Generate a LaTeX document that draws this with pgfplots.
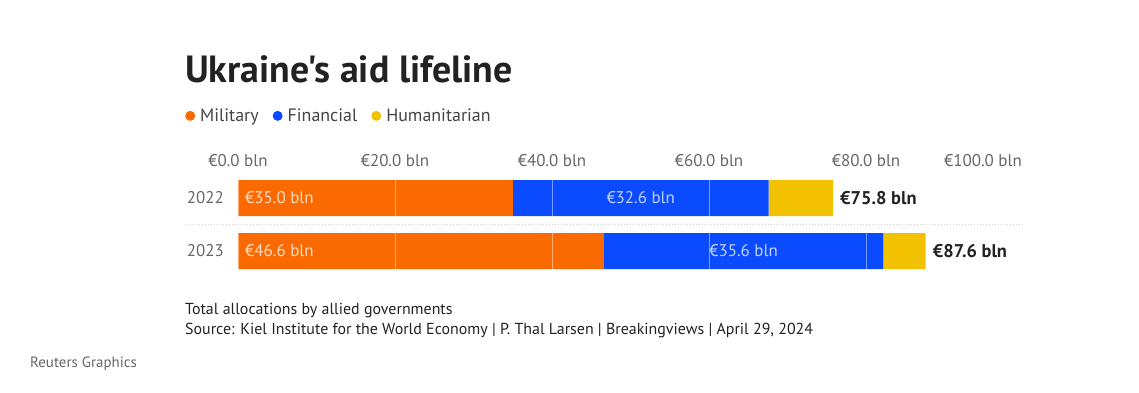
\documentclass[border=0pt]{standalone}
\usepackage{pgfplots}
\pgfplotsset{compat=1.18}
\usepackage{fontspec}
\setmainfont{PT Sans}
\newfontfamily\titlefont{PT Sans}
\definecolor{mil}{HTML}{FA6A00}
\definecolor{fin}{HTML}{0A4BFF}
\definecolor{hum}{HTML}{F2C200}
\definecolor{txt}{HTML}{222222}
\definecolor{tick}{HTML}{666666}
\tikzset{barlab/.style={inner sep=0pt, font=\fontsize{17}{20}\selectfont},
  totlab/.style={inner sep=0pt, anchor=west, xshift=7bp, font=\fontsize{18.5}{20}\bfseries\selectfont, text=txt}}
\begin{document}
\begin{tikzpicture}[x=1bp,y=1bp]
\path[use as bounding box] (0,0) rectangle (1139,392);
\begin{axis}[
  at={(238bp,114.5bp)}, anchor=south west,
  scale only axis, width=785bp, height=106bp,
  xbar stacked, bar width=36bp,
  xmin=0, xmax=100, ymin=-0.5, ymax=1.5,
  axis line style={draw=none},
  major tick length=0pt,
  ytick={0,1}, yticklabels={2023,2022},
  xtick={0,20,40,60,80},
  xticklabels={€0.0 bln,€20.0 bln,€40.0 bln,€60.0 bln,€80.0 bln},
  extra x ticks={100}, extra x tick labels={€100.0 bln},
  extra x tick style={xmajorgrids=false, xticklabel style={anchor=base east, xshift=-1bp}},
  xticklabel pos=upper,
  xticklabel style={anchor=base, yshift=5.5bp, inner sep=0pt},
  yticklabel style={anchor=east, inner sep=0pt, xshift=-14bp},
  every tick label/.append style={font=\fontsize{17}{20}\selectfont, text=tick},
  xmajorgrids, grid style={white, opacity=0.45, line width=1bp},
  axis on top, clip=false,
  legend columns=3,
  legend style={at={(-0.0675,1.525)}, anchor=west, draw=none, fill=none,
    inner sep=0pt, font=\fontsize{18}{20}\selectfont, text=txt!85,
    /tikz/every odd column/.append style={column sep=3bp},
    /tikz/every even column/.append style={column sep=12bp}},
  legend image code/.code={\fill[#1,draw=none] (5bp,0bp) circle (5bp);},
]
\addplot[fill=mil, draw=none] coordinates {(35.0,1) (46.6,0)};
\addplot[fill=fin, draw=none] coordinates {(32.6,1) (35.6,0)};
\addplot[fill=hum, draw=none] coordinates {(8.2,1) (5.4,0)};
\legend{Military,Financial,Humanitarian}
\coordinate (m22) at (axis cs:0,1);
\coordinate (m23) at (axis cs:0,0);
\coordinate (f22) at (axis cs:51.3,1);
\coordinate (f23) at (axis cs:64.4,0);
\coordinate (t22) at (axis cs:75.8,1);
\coordinate (t23) at (axis cs:87.6,0);
\end{axis}
\node[barlab, text=white!78!mil, anchor=west, xshift=7bp] at (m22) {€35.0 bln};
\node[barlab, text=white!78!mil, anchor=west, xshift=7bp] at (m23) {€46.6 bln};
\node[barlab, text=white!75!fin] at (f22) {€32.6 bln};
\node[barlab, text=white!75!fin] at (f23) {€35.6 bln};
\node[totlab] at (t22) {€75.8 bln};
\node[totlab] at (t23) {€87.6 bln};
\draw[gray!35, line width=1bp, dotted] (187,168) -- (1023,168);
\node[anchor=base west, inner sep=0pt, font=\titlefont\fontsize{38}{40}\bfseries\selectfont, text=txt] at (185,310) {Ukraine's aid lifeline};
\node[anchor=base west, inner sep=0pt, font=\fontsize{16}{18}\selectfont, text=txt] at (185,78) {Total allocations by allied governments};
\node[anchor=base west, inner sep=0pt, font=\fontsize{16}{18}\selectfont, text=txt] at (185,58) {Source: Kiel Institute for the World Economy | P. Thal Larsen | Breakingviews | April 29, 2024};
\node[anchor=base west, inner sep=0pt, font=\fontsize{15}{16}\selectfont, text=tick] at (30,25) {Reuters Graphics};
\end{tikzpicture}
\end{document}
